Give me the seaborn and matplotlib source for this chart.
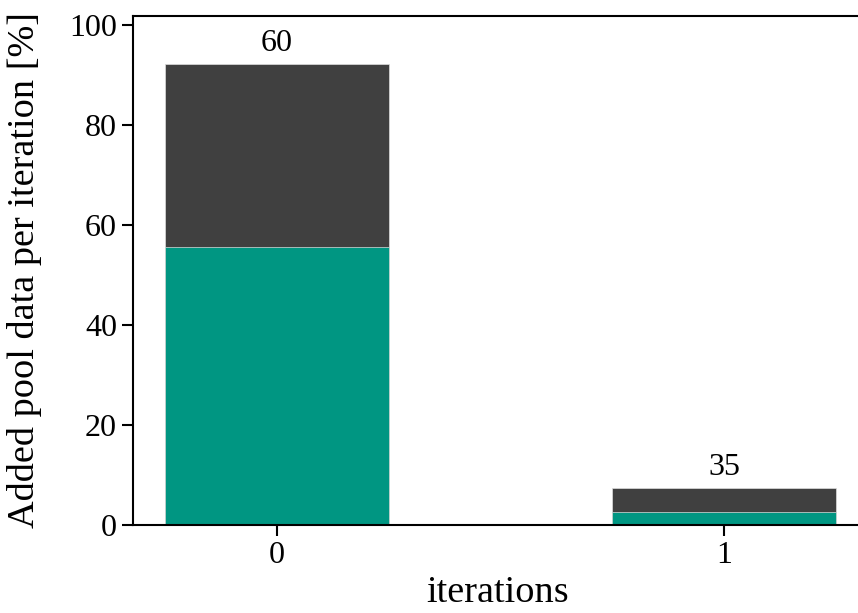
import matplotlib
matplotlib.use("Agg")
import matplotlib.pyplot as plt
import seaborn as sns
import pandas as pd

iterations = ["0", "1"]
green_part = [55.5, 2.6]
dark_part = [36.7, 4.8]
bar_labels = ["60", "35"]

totals = [g + d for g, d in zip(green_part, dark_part)]
df = pd.DataFrame({"iteration": iterations, "green": green_part, "total": totals})

sns.set_style("ticks")
plt.rcParams["font.family"] = ["Liberation Serif", "DejaVu Serif"]
plt.rcParams["font.size"] = 23
plt.rcParams["text.color"] = "black"
plt.rcParams["axes.labelcolor"] = "black"
plt.rcParams["xtick.color"] = "black"
plt.rcParams["ytick.color"] = "black"

fig = plt.figure(figsize=(8.58, 6.13), dpi=100)
ax = fig.add_axes([0.155, 0.1436, 0.85, 0.8303])

sns.barplot(data=df, x="iteration", y="total", color="#404040", width=0.5,
            saturation=1, edgecolor="#dddddd", linewidth=0.5, ax=ax)
sns.barplot(data=df, x="iteration", y="green", color="#009682", width=0.5,
            saturation=1, edgecolor="#dddddd", linewidth=0.5, ax=ax)

for i, (t, lab) in enumerate(zip(totals, bar_labels)):
    ax.text(i, t + 1.2, lab, ha="center", va="bottom", fontsize=23, color="black")

ax.set_xlim(-0.322, 1.309)
ax.set_ylim(0, 101.7)
ax.set_yticks([0, 20, 40, 60, 80, 100])
ax.set_xlabel("iterations", fontsize=27.5, color="black")
ax.set_ylabel("Added pool data per iteration [%]", fontsize=27.5, color="black")
ax.yaxis.set_label_coords(-0.125, 0.5)
ax.xaxis.set_label_coords(0.5, -0.1)
ax.tick_params(axis="both", labelsize=23, length=8, width=1.5, direction="out",
               colors="black")
for s in ax.spines.values():
    s.set_linewidth(1.5)
    s.set_color("black")

fig.savefig("out.png", dpi=100)
